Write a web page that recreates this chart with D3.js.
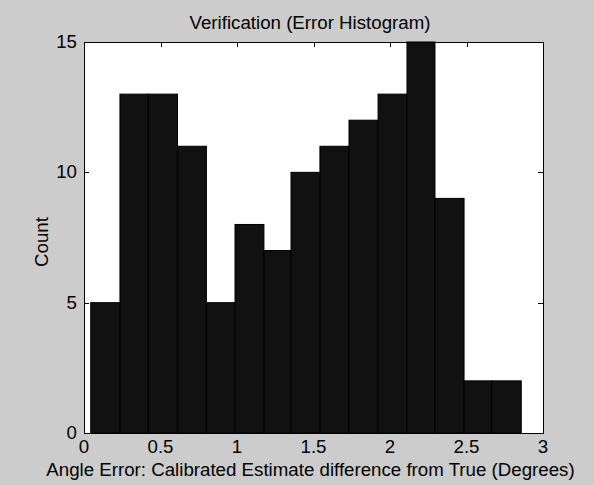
<!DOCTYPE html>
<html lang="en">
<head>
  <meta charset="UTF-8">
  <title>Verification (Error Histogram)</title>
  <script src="https://d3js.org/d3.v7.min.js"></script>
  <style>
    body { margin: 0; background: #cccccc; }
    svg { display: block; }
    text { font-family: "Liberation Sans", Arial, sans-serif; fill: #000; font-size: 18.7px; }
    .bar { fill: #111111; stroke: #000; stroke-width: 1; }
  </style>
</head>
<body>
  <svg width="594" height="485"></svg>

  <script>
// histogram bins (edges in degrees) and counts
const binEdges = [0.044, 0.235, 0.420, 0.611, 0.800, 0.987, 1.176, 1.353, 1.542, 1.732, 1.922, 2.111, 2.294, 2.484, 2.665, 2.858];
const counts   = [5, 13, 13, 11, 5, 8, 7, 10, 11, 12, 13, 15, 9, 2, 2];
const xTicks = [0, 0.5, 1, 1.5, 2, 2.5, 3];
const yTicks = [0, 5, 10, 15];

const svg = d3.select("svg");
const plotL = 84, plotR = 543, plotT = 42, plotB = 433;
const tickLen = 5;

const x = d3.scaleLinear().domain([0, 3]).range([plotL, plotR]);
const y = d3.scaleLinear().domain([0, 15]).range([plotB, plotT]);

// plot area
svg.append("rect")
  .attr("x", plotL).attr("y", plotT)
  .attr("width", plotR - plotL).attr("height", plotB - plotT)
  .attr("fill", "#fff");

// inner ticks on all four sides (matlab box style)
const tickG = svg.append("g").attr("stroke", "#000").attr("stroke-width", 1);
xTicks.forEach(t => {
  const px = Math.round(x(t)) + 0.5;
  tickG.append("line").attr("x1", px).attr("x2", px).attr("y1", plotB).attr("y2", plotB - tickLen);
  tickG.append("line").attr("x1", px).attr("x2", px).attr("y1", plotT).attr("y2", plotT + tickLen);
});
yTicks.forEach(t => {
  const py = Math.round(y(t)) + 0.5;
  tickG.append("line").attr("x1", plotL).attr("x2", plotL + tickLen).attr("y1", py).attr("y2", py);
  tickG.append("line").attr("x1", plotR).attr("x2", plotR - tickLen).attr("y1", py).attr("y2", py);
});

// bars
svg.selectAll(".bar")
  .data(counts)
  .enter()
  .append("rect")
  .attr("class", "bar")
  .attr("x", (d, i) => x(binEdges[i]))
  .attr("width", (d, i) => x(binEdges[i + 1]) - x(binEdges[i]))
  .attr("y", d => y(d))
  .attr("height", d => y(0) - y(d));

// box
svg.append("rect")
  .attr("x", plotL + 0.5).attr("y", plotT + 0.5)
  .attr("width", plotR - plotL).attr("height", plotB - plotT)
  .attr("fill", "none").attr("stroke", "#000").attr("stroke-width", 1);

// tick labels
svg.selectAll(".xlab")
  .data(xTicks)
  .enter()
  .append("text")
  .attr("class", "xlab")
  .attr("x", d => x(d))
  .attr("y", 453)
  .attr("text-anchor", "middle")
  .text(d => d);

svg.selectAll(".ylab")
  .data(yTicks)
  .enter()
  .append("text")
  .attr("class", "ylab")
  .attr("x", plotL - 7)
  .attr("y", d => y(d) + 6)
  .attr("text-anchor", "end")
  .text(d => d);

// titles
svg.append("text")
  .attr("x", 310)
  .attr("y", 29)
  .attr("text-anchor", "middle")
  .text("Verification (Error Histogram)");

svg.append("text")
  .attr("x", 310.5)
  .attr("y", 476)
  .attr("text-anchor", "middle")
  .text("Angle Error: Calibrated Estimate difference from True (Degrees)");

svg.append("text")
  .attr("transform", "translate(48, 242) rotate(-90)")
  .attr("text-anchor", "middle")
  .text("Count");
  </script>
</body>
</html>
